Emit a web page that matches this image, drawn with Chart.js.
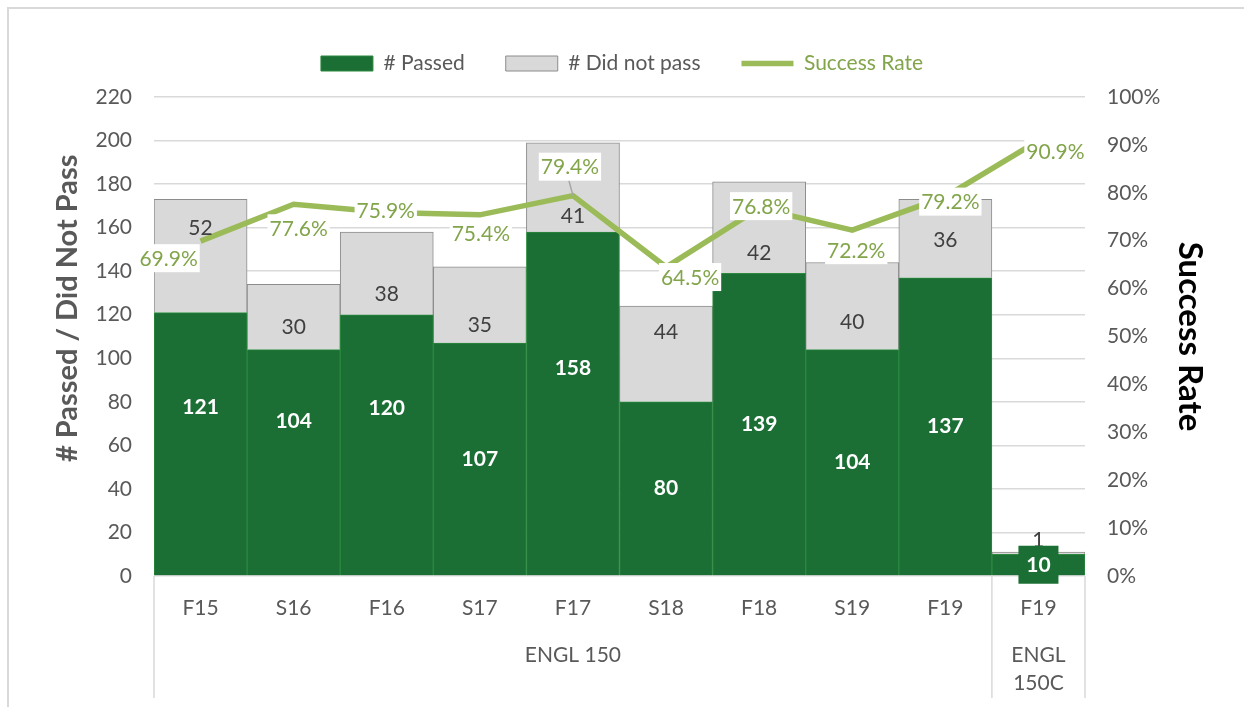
<!DOCTYPE html>
<html>
<head>
<meta charset="utf-8">
<script src="https://cdn.jsdelivr.net/npm/chart.js@4.4.1/dist/chart.umd.min.js"></script>
<style>
  html, body { margin: 0; padding: 0; background: #fff; overflow: hidden; }
  #frame { position: absolute; left: 7px; top: 7px; width: 1300px; height: 800px; border: 2px solid #d9d9d9; }
  #wrap { position: absolute; left: 0; top: 0; width: 1244px; height: 707px; }
</style>
</head>
<body>
<div id="frame"></div>
<div id="wrap"><canvas id="chart" width="1244" height="707"></canvas></div>
<script>
// data
const semesters = ["F15", "S16", "F16", "S17", "F17", "S18", "F18", "S19", "F19", "F19"];
const courseNames = [["ENGL 150"], ["ENGL", "150C"]];
const courseSpans = [9, 1];
const passed = [121, 104, 120, 107, 158, 80, 139, 104, 137, 10];
const notPassed = [52, 30, 38, 35, 41, 44, 42, 40, 36, 1];
const successRate = [69.9, 77.6, 75.9, 75.4, 79.4, 64.5, 76.8, 72.2, 79.2, 90.9];
const countMax = 220, countStep = 20;
const rateMax = 100, rateStep = 10;

Chart.defaults.font.family = "Lato";
Chart.defaults.color = "#595959";

// label placement (moved by hand in the original)
const passedShift = [-37, -41, -37, 0, -35, 0, 0, 0, 0, 0];
const notPassedShift = [-28, 10, 21, 20, 29, -22, 26, 16, 2, -13];
const rateShift = [[-32, 17], [5, 24], [-1, -2], [1, 18], [-3, -29], [24, 10], [2, -2], [4, 20], [5, 5], [17, 11]];
const rateLeader = [false, false, false, false, true, false, false, false, false, false];

const labelPlugin = {
  id: "barLabels",
  afterDatasetsDraw(chart) {
    const ctx = chart.ctx;
    const pMeta = chart.getDatasetMeta(0);
    const nMeta = chart.getDatasetMeta(1);
    const rMeta = chart.getDatasetMeta(2);
    ctx.save();
    ctx.textAlign = "center";
    ctx.textBaseline = "middle";

    // did not pass
    ctx.font = "21px Lato";
    nMeta.data.forEach((bar, i) => {
      const cy = (bar.y + bar.base) / 2 + notPassedShift[i];
      ctx.fillStyle = "#404040";
      ctx.fillText(notPassed[i], bar.x, cy);
    });

    // passed
    ctx.font = "bold 21px Lato";
    pMeta.data.forEach((bar, i) => {
      const cy = (bar.y + bar.base) / 2 + passedShift[i];
      if (bar.base - bar.y < 30) {
        ctx.fillStyle = "#1b6e34";
        ctx.fillRect(bar.x - 20, cy - 19, 40, 38);
      }
      ctx.fillStyle = "#fff";
      ctx.fillText(passed[i], bar.x, cy);
    });

    // success rate
    ctx.font = "21px Lato";
    rMeta.data.forEach((pt, i) => {
      const lx = pt.x + rateShift[i][0];
      const ly = pt.y + rateShift[i][1];
      const txt = successRate[i].toFixed(1) + "%";
      const tw = ctx.measureText(txt).width;
      if (rateLeader[i]) {
        ctx.strokeStyle = "#a6a6a6";
        ctx.lineWidth = 1.5;
        ctx.beginPath();
        ctx.moveTo(lx - 1, ly + 14);
        ctx.lineTo(pt.x, pt.y);
        ctx.stroke();
      }
      ctx.fillStyle = "#fff";
      ctx.fillRect(lx - tw / 2 - 2, ly - 14, tw + 4, 28);
      ctx.fillStyle = "#82a54b";
      ctx.fillText(txt, lx, ly + 1);
    });
    ctx.restore();
  }
};

const groupAxisPlugin = {
  id: "groupAxis",
  afterDraw(chart) {
    const ctx = chart.ctx;
    const x = chart.scales.x;
    const half = (x.getPixelForTick(1) - x.getPixelForTick(0)) / 2;
    const edge = k => (k < semesters.length ? x.getPixelForTick(k) - half : x.getPixelForTick(k - 1) + half);
    ctx.save();
    ctx.strokeStyle = "#d9d9d9";
    ctx.lineWidth = 1.5;
    ctx.fillStyle = "#595959";
    ctx.font = "21px Lato";
    ctx.textAlign = "center";
    ctx.textBaseline = "middle";
    let start = 0;
    const edges = [edge(0)];
    courseSpans.forEach((span, g) => {
      const end = start + span;
      edges.push(edge(end));
      const cx = (edge(start) + edge(end)) / 2;
      courseNames[g].forEach((line, j) => ctx.fillText(line, cx, 655 + j * 28.5));
      start = end;
    });
    edges.forEach(px => {
      ctx.beginPath();
      ctx.moveTo(px, x.top);
      ctx.lineTo(px, 698);
      ctx.stroke();
    });
    ctx.restore();
  }
};

new Chart(document.getElementById("chart"), {
  type: "bar",
  data: {
    labels: semesters,
    datasets: [
      {
        label: "# Passed",
        data: passed,
        backgroundColor: "#1b6e34",
        borderColor: "#2b8a3e",
        borderWidth: 1,
        barPercentage: 1,
        categoryPercentage: 1,
        order: 1
      },
      {
        label: "# Did not pass",
        data: notPassed,
        backgroundColor: "#d9d9d9",
        borderColor: "#8c8c8c",
        borderWidth: 1,
        barPercentage: 1,
        categoryPercentage: 1,
        order: 1
      },
      {
        type: "line",
        label: "Success Rate",
        data: successRate,
        yAxisID: "y1",
        borderColor: "#9bbb59",
        backgroundColor: "#9bbb59",
        borderWidth: 5.5,
        pointRadius: 0,
        tension: 0,
        fill: false,
        order: 0
      }
    ]
  },
  options: {
    responsive: false,
    animation: false,
    layout: { padding: { left: 10, right: 10, top: 12, bottom: 0 } },
    plugins: {
      tooltip: { enabled: false },
      legend: {
        position: "top",
        labels: {
          usePointStyle: true,
          pointStyleWidth: 52,
          boxHeight: 15,
          padding: 41,
          font: { size: 21 },
          sort: (a, b) => a.datasetIndex - b.datasetIndex,
          generateLabels(chart) {
            const items = Chart.defaults.plugins.legend.labels.generateLabels(chart);
            return items.map(item => {
              const isLine = chart.data.datasets[item.datasetIndex].type === "line";
              item.pointStyle = isLine ? "line" : "rect";
              item.fontColor = isLine ? "#82a54b" : "#595959";
              return item;
            });
          }
        }
      }
    },
    scales: {
      x: {
        stacked: true,
        offset: true,
        grid: { display: false, drawTicks: false },
        border: { display: false },
        ticks: { padding: 20, font: { size: 21 }, maxRotation: 0, autoSkip: false },
        afterFit(s) { s.height = 131; }
      },
      // empty strip between legend and plot area
      gap: {
        type: "linear",
        position: "top",
        display: true,
        ticks: { display: false },
        grid: { display: false, drawTicks: false },
        border: { display: false },
        afterFit(s) { s.height = 13; }
      },
      y: {
        stacked: true,
        min: 0,
        max: countMax,
        ticks: { stepSize: countStep, padding: 22, font: { size: 21 } },
        grid: { color: "#d9d9d9", lineWidth: 1.5, drawTicks: false },
        border: { display: false },
        title: {
          display: true,
          text: "        # Passed / Did Not Pass",
          color: "#595959",
          font: { size: 29, weight: "bold" },
          padding: { top: 40, bottom: 0 }
        },
        afterFit(s) { s.width = 144; }
      },
      y1: {
        position: "right",
        min: 0,
        max: rateMax,
        ticks: { stepSize: rateStep, padding: 22, font: { size: 21 }, callback: v => v + "%" },
        grid: { display: false, drawTicks: false },
        border: { display: false },
        title: {
          display: true,
          text: "Success Rate",
          color: "#000",
          font: { size: 33, weight: "bold" },
          padding: { top: 25, bottom: 0 }
        },
        afterFit(s) { s.width = 149; }
      }
    }
  },
  plugins: [labelPlugin, groupAxisPlugin]
});
</script>
</body>
</html>
